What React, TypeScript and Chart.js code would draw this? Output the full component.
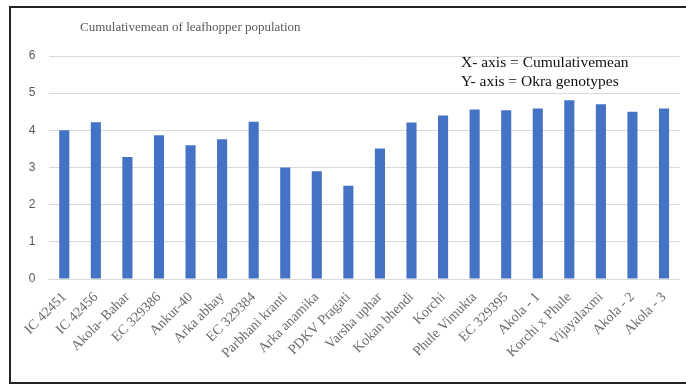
import React, { useEffect, useRef } from "react";
import { Chart, registerables } from "chart.js";

Chart.register(...registerables);

const genotypes = [
  "IC 42451", "IC 42456", "Akola- Bahar", "EC 329386", "Ankur-40", "Arka abhay",
  "EC 329384", "Parbhani kranti", "Arka anamika", "PDKV Pragati", "Varsha uphar",
  "Kokan bhendi", "Korchi", "Phule Vimukta", "EC 329395", "Akola - 1",
  "Korchi x Phule", "Vijayalaxmi", "Akola - 2", "Akola - 3",
];
const cumulativeMean = [
  4.0, 4.22, 3.28, 3.87, 3.6, 3.76, 4.23, 3.0, 2.9, 2.51, 3.51,
  4.21, 4.4, 4.56, 4.54, 4.59, 4.81, 4.7, 4.5, 4.59,
];
const yTicks = [0, 1, 2, 3, 4, 5, 6];
const chartTitle = "Cumulativemean of leafhopper population";
const noteLines = ["X- axis = Cumulativemean", "Y- axis = Okra genotypes"];

const textPlugin = {
  id: "texts",
  afterDraw(chart: any) {
    const ctx = chart.ctx;
    ctx.save();
    ctx.textBaseline = "middle";
    ctx.textAlign = "left";
    ctx.fillStyle = "#595959";
    ctx.font = "13px 'Liberation Serif', 'Times New Roman', serif";
    ctx.fillText(chartTitle, 80, 28);
    ctx.fillStyle = "#111111";
    ctx.font = "15.5px 'Liberation Serif', 'Times New Roman', serif";
    ctx.fillText(noteLines[0], 461, 63);
    ctx.fillText(noteLines[1], 461, 82);
    ctx.restore();
  },
};

export default function App() {
  const ref = useRef<HTMLCanvasElement>(null);
  useEffect(() => {
    document.body.style.margin = "0";
    const chart = new Chart(ref.current!, {
      type: "bar",
      data: {
        labels: genotypes,
        datasets: [
          {
            data: cumulativeMean,
            backgroundColor: "#4472C4",
            barPercentage: 0.64,
            categoryPercentage: 0.5,
          },
        ],
      },
      options: {
        animation: false,
        responsive: false,
        devicePixelRatio: 1,
        layout: { padding: { top: 56, right: 4, left: 0, bottom: 0 } },
        plugins: { legend: { display: false }, title: { display: false }, tooltip: { enabled: false } },
        scales: {
          x: {
            grid: { display: false, drawTicks: false },
            border: { color: "#d9d9d9", width: 1 },
            ticks: {
              color: "#6b6b6b",
              font: { family: "'Liberation Serif', 'Times New Roman', serif", size: 14 },
              minRotation: 45,
              maxRotation: 45,
              autoSkip: false,
              padding: 10,
            },
            afterFit: (s: any) => { s.height = 106; },
          },
          y: {
            min: 0,
            max: 6,
            afterBuildTicks: (s: any) => { s.ticks = yTicks.map((v) => ({ value: v })); },
            grid: { color: "#d9d9d9", drawTicks: false },
            border: { display: false },
            ticks: {
              color: "#595959",
              font: { family: "'Liberation Sans', Arial, sans-serif", size: 12 },
              padding: 13,
            },
            afterFit: (s: any) => { s.width = 48.5; },
          },
        },
      },
      plugins: [textPlugin],
    });
    return () => chart.destroy();
  }, []);
  return (
    <div style={{ position: "fixed", left: 0, top: 0, width: 686, height: 385, background: "#fff", overflow: "hidden" }}>
      <div style={{ position: "absolute", left: 9, top: 6, width: 700, height: 378, border: "2px solid #222", boxSizing: "border-box" }} />
      <canvas ref={ref} width={686} height={385} style={{ position: "absolute", left: 0, top: 0 }} />
    </div>
  );
}
